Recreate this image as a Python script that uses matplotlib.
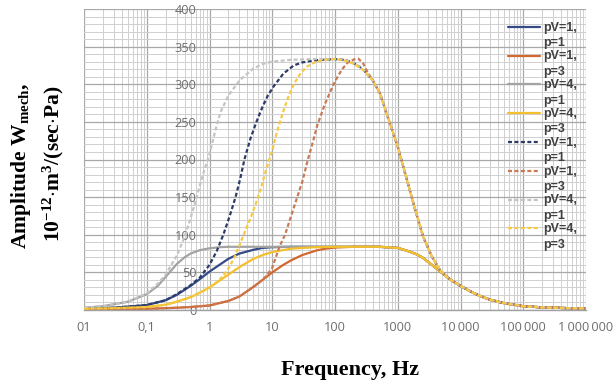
import numpy as np
import matplotlib
matplotlib.use("Agg")
import matplotlib.pyplot as plt
from matplotlib.legend_handler import HandlerLine2D
from matplotlib.ticker import MultipleLocator, LogLocator, NullFormatter, FixedLocator, FixedFormatter

plt.rcParams['mathtext.fontset'] = 'custom'
plt.rcParams['mathtext.rm'] = 'Liberation Serif:bold'
plt.rcParams['mathtext.bf'] = 'Liberation Serif:bold'
plt.rcParams['mathtext.it'] = 'Liberation Serif:bold'
plt.rcParams['mathtext.default'] = 'rm'

# ---------------- data ----------------
x_tick_values = [0.01, 0.1, 1, 10, 100, 1000, 10000, 100000, 1000000]
x_tick_labels = ["01", "0,1", "1", "10", "100", "1000", "10\u2009000", "100\u2009000", "1\u2009000\u2009000"]
y_tick_values = [0, 50, 100, 150, 200, 250, 300, 350, 400]

labels = ["pV=1,\np=1", "pV=1,\np=3", "pV=4,\np=1", "pV=4,\np=3",
          "pV=1,\np=1", "pV=1,\np=3", "pV=4,\np=1", "pV=4,\np=3"]

# shared high-frequency parts
solid_fall_f = [500, 1000, 1500, 2000, 2500, 3500, 4700]
solid_fall_v = [84, 82.5, 78, 74, 69.5, 60, 51.5]
dash_fall_f = [400, 520, 750, 1000, 1400, 1900, 2550, 3500, 4700]
dash_fall_v = [305, 288, 248, 217, 173, 133, 97, 71, 53]
hf_tail_f = [5700, 7000, 10000, 15000, 20000, 30000, 50000, 100000, 200000, 500000, 1000000]
hf_tail_v = [46, 40, 32, 24, 19, 13.5, 9, 5, 3.5, 2.5, 2]

# solid series, low-frequency parts
blue_solid_f = [0.01, 0.03, 0.1, 0.2, 0.3, 0.5, 0.7, 1, 1.5, 2, 3, 5, 7, 10, 20, 100]
blue_solid_v = [2, 3, 6.5, 13, 20, 32, 41, 51, 61, 68, 75, 80, 82.5, 83.5, 84, 84]
red_solid_f = [0.01, 0.1, 0.3, 0.5, 1, 2, 3, 4.5, 7, 10, 15, 20, 30, 50, 70, 100, 200]
red_solid_v = [0.5, 1.5, 3, 4, 6, 12, 18, 28, 40, 50, 60, 66, 73, 79, 81.5, 83, 84]
gray_solid_f = [0.01, 0.02, 0.05, 0.1, 0.15, 0.2, 0.3, 0.4, 0.5, 0.7, 1, 1.5, 2, 5, 100]
gray_solid_v = [3, 5, 11, 21, 32, 44, 61, 70, 75, 79.5, 82, 83.5, 84, 84, 84]
yellow_solid_f = [0.01, 0.03, 0.1, 0.2, 0.3, 0.5, 0.7, 1, 1.5, 2, 3, 5, 7, 10, 20, 50, 100]
yellow_solid_v = [1.5, 2.5, 4, 7, 11, 17, 23, 30, 40, 47, 57, 68, 73, 77, 81.5, 83.5, 84]

# dashed series, low-frequency parts
blue_dash_f = [0.01, 0.03, 0.1, 0.2, 0.3, 0.5, 0.7, 1, 1.3, 1.66, 2.1, 2.6, 3.1, 3.6, 4.5, 5.6, 7,
               8.5, 10.7, 15, 22, 30, 50, 100, 150, 200, 250, 300]
blue_dash_v = [2, 3, 6.5, 13, 21, 33, 43, 60, 78, 100, 125, 150, 175, 200, 228, 250, 270,
               285, 298, 314, 325, 329, 332, 333.5, 332, 328, 323, 317]
red_dash_f = [0.01, 0.1, 0.3, 0.5, 1, 2, 3, 4.5, 6, 8, 10, 13, 16, 20, 25, 30, 37, 45, 52, 70,
              95, 110, 130, 160, 200, 235, 280, 330]
red_dash_v = [0.5, 1.5, 3, 4, 6, 12, 18, 28, 35, 45, 56, 84, 100, 125, 150, 170, 200, 225, 245, 275,
              300, 310, 320, 329, 333, 334, 328, 316]
gray_dash_f = [0.01, 0.02, 0.05, 0.1, 0.15, 0.2, 0.3, 0.4, 0.5, 0.6, 0.7, 0.8, 1, 1.25, 1.5, 2, 3,
               5, 7, 10, 20, 50, 100, 150, 200, 250, 300]
gray_dash_v = [3, 5, 11, 22, 35, 47, 72, 97, 122, 145, 165, 182, 207, 240, 263, 285, 305,
               321, 327, 330, 332.5, 333.5, 333.5, 332, 328, 323, 317]
yellow_dash_f = [0.01, 0.03, 0.1, 0.2, 0.3, 0.5, 0.7, 1, 1.3, 1.6, 2, 2.5, 3, 3.5, 4.5, 5.5, 6.5,
                 8, 10, 12, 15, 18, 22, 28, 35, 50, 75, 100, 150, 200, 250, 300]
yellow_dash_v = [1.5, 2.5, 4, 7, 11, 17, 23, 30, 37, 44, 55, 70, 86, 100, 122, 142, 160,
                 187, 212, 238, 264, 283, 300, 314, 323, 330, 333, 333.5, 331, 327, 322, 317]

solid_low = [(blue_solid_f, blue_solid_v), (red_solid_f, red_solid_v),
             (gray_solid_f, gray_solid_v), (yellow_solid_f, yellow_solid_v)]
dash_low = [(blue_dash_f, blue_dash_v), (red_dash_f, red_dash_v),
            (gray_dash_f, gray_dash_v), (yellow_dash_f, yellow_dash_v)]

solid_colors = ['#344a86', '#d2672f', '#a3a3a3', '#f4bf2c']
dash_colors = ['#2d3b68', '#c77a55', '#c4c4c4', '#f6c940']

# ---------------- figure ----------------
fig = plt.figure(figsize=(6.16, 3.89), dpi=100)
ax = fig.add_axes([84 / 616, 1 - 310 / 389, 502 / 616, 301 / 389])
ax.set_xscale('log')
ax.set_xlim(0.01, 1e6)
ax.set_ylim(0, 400)

ax.yaxis.set_major_locator(FixedLocator(y_tick_values))
ax.yaxis.set_minor_locator(MultipleLocator(10))
ax.xaxis.set_major_locator(FixedLocator(x_tick_values))
ax.xaxis.set_major_formatter(FixedFormatter(x_tick_labels))
ax.xaxis.set_minor_locator(LogLocator(base=10, subs=np.arange(2, 10)))
ax.xaxis.set_minor_formatter(NullFormatter())

ax.grid(True, which='major', color='#a8a8a8', linewidth=0.9, zorder=0)
ax.grid(True, which='minor', color='#cfcfcf', linewidth=0.7, zorder=0)
ax.set_axisbelow(True)

for s in ['top', 'right', 'left']:
    ax.spines[s].set_visible(False)
ax.spines['bottom'].set_color('#a0a0a0')
ax.spines['bottom'].set_linewidth(1.0)
ax.spines['left'].set_position(('data', 1))

ax.tick_params(axis='both', which='both', length=0)
ax.tick_params(axis='y', pad=9.5, labelcolor='#6e6e6e')
ax.tick_params(axis='x', pad=8, labelcolor='#6e6e6e')
for t in ax.get_xticklabels() + ax.get_yticklabels():
    t.set_fontfamily(['Open Sans', 'DejaVu Sans'])
    t.set_fontsize(9.2)

handles = []
for (f, v), c, lab in zip(solid_low, solid_colors, labels[:4]):
    ff = list(f) + solid_fall_f + hf_tail_f
    vv = list(v) + solid_fall_v + hf_tail_v
    h, = ax.plot(ff, vv, color=c, lw=1.6, label=lab, solid_capstyle='round')
    handles.append(h)
for (f, v), c, lab in zip(dash_low, dash_colors, labels[4:]):
    ff = list(f) + dash_fall_f + hf_tail_f
    vv = list(v) + dash_fall_v + hf_tail_v
    h, = ax.plot(ff, vv, color=c, lw=1.6, label=lab, dashes=(1.8, 1.1))
    handles.append(h)


class UpHandler(HandlerLine2D):
    def create_artists(self, legend, orig_handle, xdescent, ydescent, width, height, fontsize, trans):
        arts = super().create_artists(legend, orig_handle, xdescent, ydescent, width, height, fontsize, trans)
        for a in arts:
            a.set_ydata(np.asarray(a.get_ydata(), dtype=float) + 6.2)
        return arts


leg = ax.legend(handles=handles, loc='upper left', bbox_to_anchor=(0.8446, 0.958),
                frameon=False, borderpad=0, borderaxespad=0, handlelength=2.6,
                handletextpad=0.25, labelspacing=0.11,
                prop={'family': 'Liberation Sans', 'weight': 'bold', 'size': 9},
                handler_map={matplotlib.lines.Line2D: UpHandler()})
for t in leg.get_texts():
    t.set_color('#404040')
    t.set_linespacing(1.38)

fig.text(21 / 616, 1 - 166 / 389, r"Amplitude W$_{\mathrm{mech}}$,", rotation=90,
         ha='center', va='center', fontsize=15.5, fontfamily='Liberation Serif', fontweight='bold')
fig.text(53 / 616, 1 - 164 / 389, r"$10^{-12}$$\cdot$m$^{3}$/(sec$\cdot$Pa)", rotation=90,
         ha='center', va='center', fontsize=15.5, fontfamily='Liberation Serif', fontweight='bold')
fig.text(350 / 616, 1 - 370 / 389, "Frequency, Hz", ha='center', va='center',
         fontsize=16, fontfamily='Liberation Serif', fontweight='bold')

fig.savefig('out.png', dpi=100, facecolor='white')
